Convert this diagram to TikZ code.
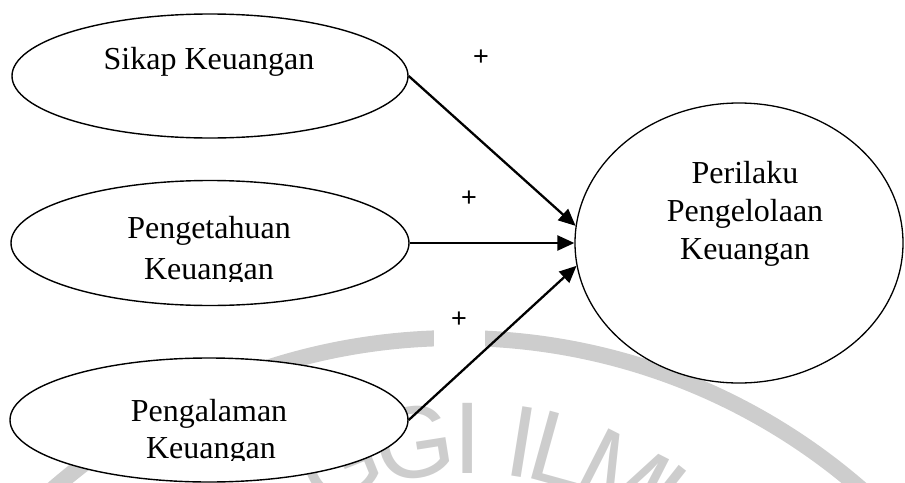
\documentclass[tikz,border=0pt]{standalone}
\usepackage{fontspec}
\setmainfont{Liberation Serif}
\newfontfamily\sansfnt{Liberation Sans}
\usetikzlibrary{arrows.meta,shapes.geometric}
\definecolor{wmgray}{RGB}{205,205,205}
\begin{document}
\begin{tikzpicture}[x=1pt,y=-1pt,
  oval/.style={draw=black, line width=1.4pt, fill=white, ellipse, inner sep=0pt},
  lbl/.style={font=\fontsize{32}{38}\selectfont, inner sep=0pt, anchor=base},
  plussign/.style={font=\sansfnt\fontsize{27}{27}\selectfont, fill=white, minimum width=51pt, minimum height=54pt, inner sep=0pt},
  conn/.style={line width=2.3pt, -{Triangle[length=17pt,width=15pt]}},
  wm/.style={text=wmgray, font=\sansfnt\fontsize{102}{102}\selectfont, inner sep=0pt}
]
\useasboundingbox (0,0) rectangle (905,482);
\begin{scope}
  \clip (0,0) rectangle (905,482);
  % watermark
  \draw[wmgray, line width=16pt] (457,954) circle[radius=616];
  \node[wm, rotate=22] (w1) at (339.9,462.9) {G};
  \node[wm, rotate=9] (w2) at (414.5,442.2) {G};
  \node[wm] (w3) at (468,438) {I};
  \node[wm, rotate=-9.1] (w4) at (522.1,442.3) {I};
  \node[wm, rotate=-15.5] (w5) at (560,450) {L};
  \node[wm, rotate=-27] (w6) at (623.3,475.3) {M};
  \node[wm, rotate=-38.3] (w7) at (680,511.6) {U};

  % ellipses
  \node[oval, minimum width=396pt, minimum height=124pt] (sk) at (210,76) {};
  \node[oval, minimum width=398pt, minimum height=125pt] (pt) at (210,243) {};
  \node[oval, minimum width=398pt, minimum height=124pt] (pg) at (209,420) {};
  \node[oval, line width=1.3pt, minimum width=328pt, minimum height=280pt] (pk) at (739,243) {};

  % texts
  \node[lbl] (t1) at (209,69) {Sikap Keuangan};
  \node[lbl] (t2) at (209,238) {Pengetahuan};
  \begin{scope}
    \clip (90,240) rectangle (330,281);
    \node[lbl] (t3) at (209,279) {Keuangan};
  \end{scope}
  \node[lbl] (t4) at (209,421) {Pengalaman};
  \begin{scope}
    \clip (90,425) rectangle (330,460);
    \node[lbl] (t5) at (211,458) {Keuangan};
  \end{scope}
  \node[lbl] (t6) at (745,183) {Perilaku};
  \node[lbl] (t7) at (745,221) {Pengelolaan};
  \node[lbl] (t8) at (745,259) {Keuangan};

  % plus signs
  \node[plussign] (p1) at (481,58) {+};
  \node[plussign] (p2) at (469,199) {+};
  \node[plussign] (p3) at (459,320) {+};

  % connectors
  \draw[conn] (sk.east) -- (pk.174);
  \draw[conn] (pt.east) -- (pk.west);
  \draw[conn] (pg.east) -- (pk.188);
\end{scope}
\end{tikzpicture}
\end{document}
